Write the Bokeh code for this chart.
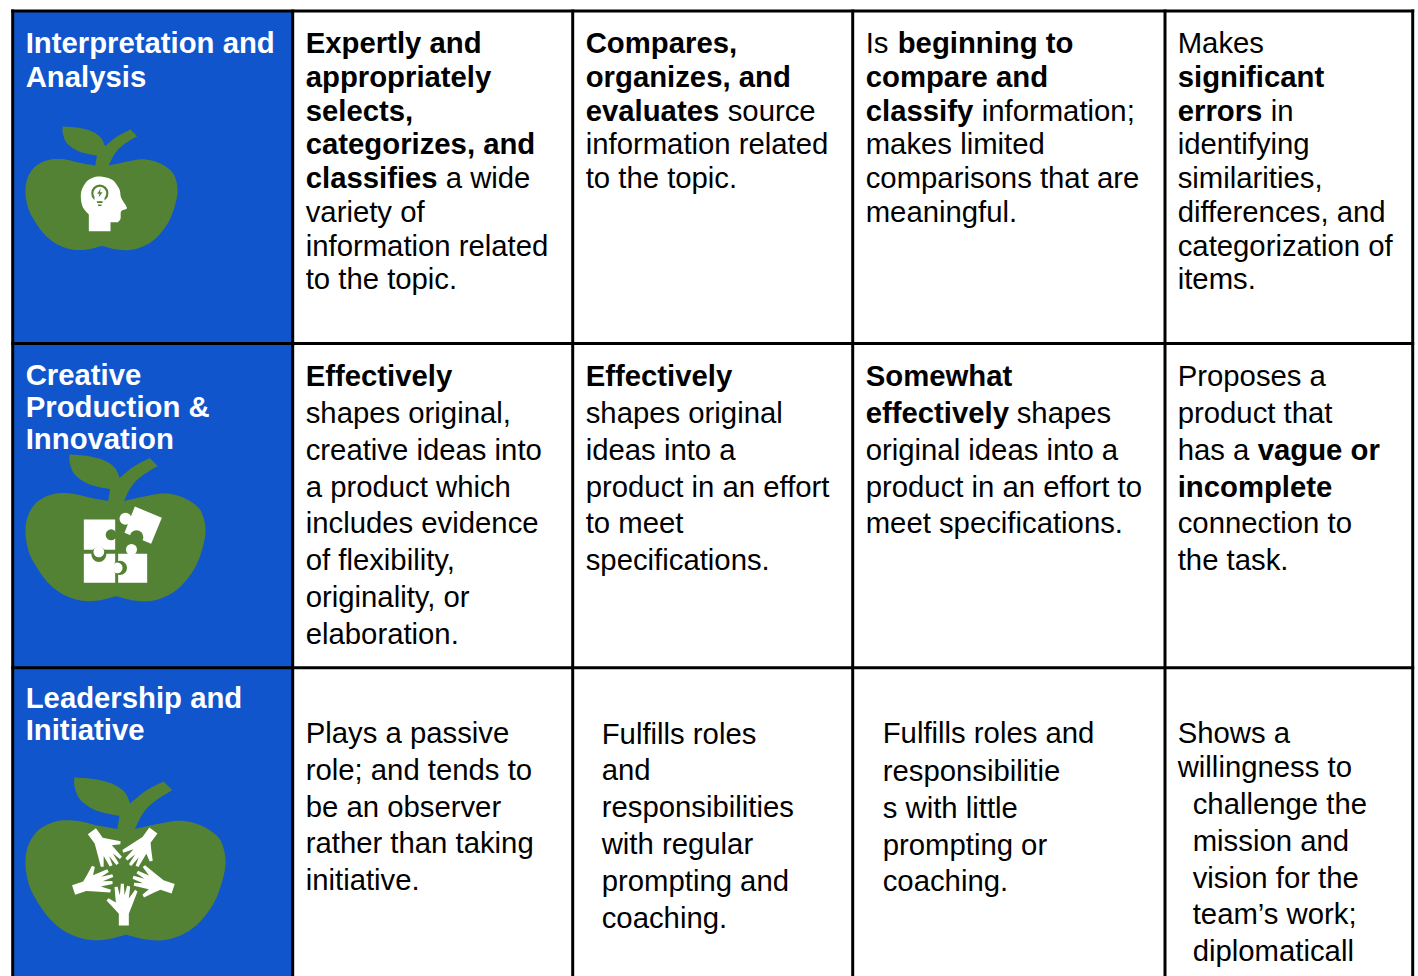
from bokeh.plotting import figure
from bokeh.models import Range1d
from bokeh.core.properties import value
from bokeh.embed import file_html
from bokeh.resources import INLINE
import math

BLUE = "#1155cc"
GREEN = "#548235"
FONT = "Liberation Sans"
FS = "29.3px"
TEXT_DY = -11
TEXT_DX = -0.8

# Table grid
col_edges = [12.2, 292.2, 572.2, 852.2, 1164.5, 1412.2]
row_edges = [10.5, 343, 667.2, 990]

# Header texts: (text, x, baseline)
header_lines = [
    ("Interpretation and", 26, 53), ("Analysis", 26, 87),
    ("Creative", 26, 385), ("Production &", 26, 417), ("Innovation", 26, 449),
    ("Leadership and", 26, 708), ("Initiative", 26, 740),
]

# Body text: (text, x, baseline, bold)
body_lines = [
    ("Expertly and", 306, 53, 1), ("appropriately", 306, 87, 1), ("selects,", 306, 121, 1),
    ("categorizes, and", 306, 154, 1), ("classifies", 306, 188, 1), ("a wide", 446, 188, 0),
    ("variety of", 306, 222, 0), ("information related", 306, 256, 0), ("to the topic.", 306, 289, 0),

    ("Compares,", 586, 53, 1), ("organizes, and", 586, 87, 1), ("evaluates", 586, 121, 1),
    ("source", 728, 121, 0), ("information related", 586, 154, 0), ("to the topic.", 586, 188, 0),

    ("Is", 866, 53, 0), ("beginning to", 898, 53, 1), ("compare and", 866, 87, 1),
    ("classify", 866, 121, 1), ("information;", 982, 121, 0), ("makes limited", 866, 154, 0),
    ("comparisons that are", 866, 188, 0), ("meaningful.", 866, 222, 0),

    ("Makes", 1178, 53, 0), ("significant", 1178, 87, 1), ("errors", 1178, 121, 1), ("in", 1271, 121, 0),
    ("identifying", 1178, 154, 0), ("similarities,", 1178, 188, 0), ("differences, and", 1178, 222, 0),
    ("categorization of", 1178, 256, 0), ("items.", 1178, 289, 0),

    ("Effectively", 306, 386, 1), ("shapes original,", 306, 423, 0), ("creative ideas into", 306, 460, 0),
    ("a product which", 306, 497, 0), ("includes evidence", 306, 533, 0), ("of flexibility,", 306, 570, 0),
    ("originality, or", 306, 607, 0), ("elaboration.", 306, 644, 0),

    ("Effectively", 586, 386, 1), ("shapes original", 586, 423, 0), ("ideas into a", 586, 460, 0),
    ("product in an effort", 586, 497, 0), ("to meet", 586, 533, 0), ("specifications.", 586, 570, 0),

    ("Somewhat", 866, 386, 1), ("effectively", 866, 423, 1), ("shapes", 1017, 423, 0),
    ("original ideas into a", 866, 460, 0), ("product in an effort to", 866, 497, 0),
    ("meet specifications.", 866, 533, 0),

    ("Proposes a", 1178, 386, 0), ("product that", 1178, 423, 0), ("has a", 1178, 460, 0),
    ("vague or", 1258, 460, 1), ("incomplete", 1178, 497, 1), ("connection to", 1178, 533, 0),
    ("the task.", 1178, 570, 0),

    ("Plays a passive", 306, 743, 0), ("role; and tends to", 306, 780, 0), ("be an observer", 306, 817, 0),
    ("rather than taking", 306, 853, 0), ("initiative.", 306, 890, 0),

    ("Fulfills roles", 602, 744, 0), ("and", 602, 780, 0), ("responsibilities", 602, 817, 0),
    ("with regular", 602, 854, 0), ("prompting and", 602, 891, 0), ("coaching.", 602, 928, 0),

    ("Fulfills roles and", 883, 743, 0), ("responsibilitie", 883, 781, 0), ("s with little", 883, 818, 0),
    ("prompting or", 883, 855, 0), ("coaching.", 883, 891, 0),

    ("Shows a", 1178, 743, 0), ("willingness to", 1178, 777, 0), ("challenge the", 1193, 814, 0),
    ("mission and", 1193, 851, 0), ("vision for the", 1193, 888, 0), ("team\u2019s work;", 1193, 924, 0),
    ("diplomaticall", 1193, 961, 0),
]

# Apple outline sections in a 3x zoom frame with origin at (76,378), 455 wide, 368 high
apple_curves = [
    [(285, 495), (240, 487), (190, 476), (145, 478), (105, 498), (82, 533), (76, 575), (85, 625), (108, 668),
     (135, 703), (170, 730), (215, 746), (260, 746), (305, 735)],
    [(305, 735), (350, 746), (400, 746), (450, 725), (488, 688), (515, 640), (531, 575), (522, 526), (500, 501),
     (465, 483), (425, 476), (380, 483), (325, 495)],
    [(325, 495), (338, 468), (355, 445), (380, 425), (410, 407)],
    [(410, 407), (390, 387)],
    [(390, 387), (350, 408), (314, 437)],
    [(314, 437), (302, 412), (275, 393), (235, 382), (187, 378)],
    [(187, 378), (188, 400), (200, 428), (230, 450), (262, 460), (290, 465)],
    [(290, 465), (285, 495)],
]
apple_boxes = [(25, 126, 152, 123), (25, 454, 180, 146), (25, 777, 200, 162)]

# Head icon, coordinates in a 3x zoom frame at the origin of the reference
head_curve = [(265, 642), (247, 620), (241, 590), (245, 565), (262, 540), (290, 528), (320, 532), (338, 540),
              (350, 555), (358, 570), (362, 592), (376, 615), (378, 625), (362, 632), (360, 655), (352, 665)]
head_tail = [(330, 665), (330, 692), (265, 692)]
bolt_x = [301, 290, 297, 293, 306, 298]
bolt_y = [563, 580, 580, 593, 575, 575]

# One hand, 3x zoom frame, offset by y=676; rotated around the ring centre
hand_x = [355, 355, 340, 318, 324, 346, 342, 351, 358, 361, 370, 372, 380, 389, 385, 404, 411, 395, 385, 385]
hand_y = [747, 712, 695, 672, 665, 678, 632, 630, 656, 622, 622, 656, 628, 630, 666, 640, 645, 686, 712, 747]
hand_angles = [0, 72, 144, 216, 288]


def smooth(pts, n=8):
    """Catmull-Rom through the hand-read outline points."""
    if len(pts) < 3:
        return list(pts)
    out = []
    ext = [pts[0]] + list(pts) + [pts[-1]]
    for i in range(1, len(ext) - 2):
        p0, p1, p2, p3 = ext[i - 1], ext[i], ext[i + 1], ext[i + 2]
        for k in range(n):
            t = k / n
            out.append(tuple(0.5 * (2 * p1[j] + (p2[j] - p0[j]) * t + (2 * p0[j] - 5 * p1[j] + 4 * p2[j] - p3[j]) * t ** 2
                                    + (3 * p1[j] - p0[j] - 3 * p2[j] + p3[j]) * t ** 3) for j in (0, 1)))
    out.append(pts[-1])
    return out


apple_outline = [q for c in apple_curves for q in smooth(c)]
head_outline = smooth(head_curve) + head_tail

p = figure(width=1418, height=976, output_backend="svg", toolbar_location=None,
           x_range=Range1d(0, 1418), y_range=Range1d(976, 0), min_border=0,
           background_fill_color="white", border_fill_color="white", outline_line_color=None)
p.axis.visible = False
p.grid.visible = False

# Blue header cells
p.quad(left=[col_edges[0]] * 3, right=[col_edges[1]] * 3, top=row_edges[:3], bottom=row_edges[1:],
       fill_color=BLUE, line_color=None)

for x0, y0, w, h in apple_boxes:
    p.patch([x0 + (q[0] - 76) / 455 * w for q in apple_outline],
            [y0 + (q[1] - 378) / 368 * h for q in apple_outline], fill_color=GREEN, line_color=None)

# Head icon
p.patch([q[0] / 3 for q in head_outline], [q[1] / 3 for q in head_outline], fill_color="white", line_color=None)
p.circle(x=[298 / 3], y=[578 / 3], radius=8.6, fill_color=GREEN, line_color=None)
p.circle(x=[298 / 3], y=[578 / 3], radius=6.4, fill_color="white", line_color=None)
p.patch([v / 3 for v in bolt_x], [v / 3 for v in bolt_y], fill_color=GREEN, line_color=None)
p.quad(left=[94], right=[104], top=[196], bottom=[200.5], fill_color="white", line_color=None)
p.quad(left=[96.5, 97.5], right=[102, 101], top=[201, 204], bottom=[202.5, 205.5], fill_color=GREEN, line_color=None)


# Puzzle icon (3x zoom frame, offset y=340)
def zx(v): return v / 3
def zy(v): return 340 + v / 3


p.quad(left=[zx(250), zx(250), zx(353)], right=[zx(344), zx(344), zx(440)],
       top=[zy(537), zy(640), zy(640)], bottom=[zy(628), zy(727), zy(727)], fill_color="white", line_color=None)
p.patch([zx(v) for v in [403, 484, 452, 372]], [zy(v) for v in [498, 532, 610, 577]],
        fill_color="white", line_color=None)
p.circle(x=[zx(375)], y=[zy(535)], radius=6, fill_color="white", line_color=None)
p.circle(x=[zx(393)], y=[zy(627)], radius=5.5, fill_color="white", line_color=None)
p.circle(x=[zx(332), zx(408), zx(295), zx(358)], y=[zy(583), zy(590), zy(642), zy(682)],
         radius=[5.5, 6.8, 7.5, 7.2], fill_color=GREEN, line_color=None)
p.circle(x=[zx(295), zx(350)], y=[zy(634), zy(682)], radius=[5.4, 5.4], fill_color="white", line_color=None)

# Hands icon (3x zoom frame, offset y=676)
cx, cy = 368, 590
for ang in hand_angles:
    a = math.radians(ang)
    xs = [cx + (x - cx) * math.cos(a) - (y - cy) * math.sin(a) for x, y in zip(hand_x, hand_y)]
    ys = [cy + (x - cx) * math.sin(a) + (y - cy) * math.cos(a) for x, y in zip(hand_x, hand_y)]
    p.patch([v / 3 for v in xs], [676 + v / 3 for v in ys], fill_color="white", line_color=None)

# Grid lines
p.segment(x0=col_edges, x1=col_edges, y0=[row_edges[0] - 1.5] * 6, y1=[row_edges[-1]] * 6,
          line_color="black", line_width=3)
p.segment(x0=[col_edges[0] - 1.5] * 3, x1=[col_edges[-1] + 1.5] * 3, y0=row_edges[:3], y1=row_edges[:3],
          line_color="black", line_width=3)

# Texts
p.text(x=[t[1] + TEXT_DX for t in header_lines], y=[t[2] + TEXT_DY for t in header_lines],
       text=[t[0] for t in header_lines],
       text_font=value(FONT), text_font_style="bold", text_font_size=FS, text_color="white",
       text_baseline="alphabetic", text_align="left")
reg = [t for t in body_lines if not t[3]]
bold = [t for t in body_lines if t[3]]
p.text(x=[t[1] + TEXT_DX for t in reg], y=[t[2] + TEXT_DY for t in reg], text=[t[0] for t in reg],
       text_font=value(FONT), text_font_size=FS, text_color="black",
       text_baseline="alphabetic", text_align="left")
p.text(x=[t[1] + TEXT_DX for t in bold], y=[t[2] + TEXT_DY for t in bold], text=[t[0] for t in bold],
       text_font=value(FONT), text_font_style="bold", text_font_size=FS, text_color="black",
       text_baseline="alphabetic", text_align="left")

open("out.html", "w").write(file_html(p, INLINE))
